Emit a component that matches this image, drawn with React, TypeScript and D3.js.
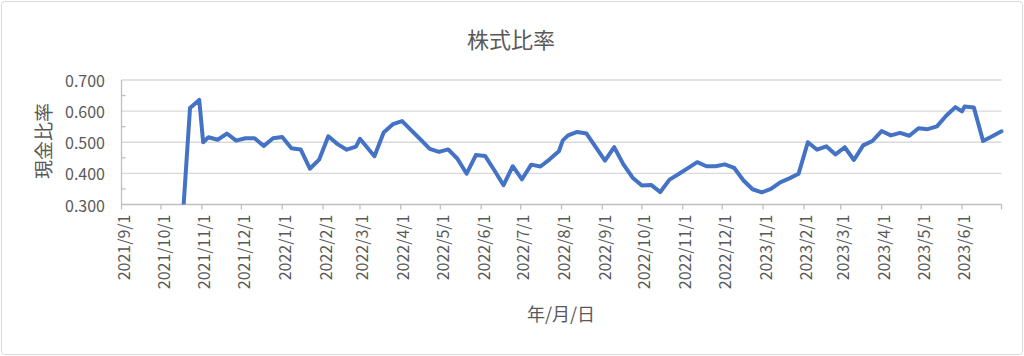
import React from "react";
import * as d3 from "d3";

const dates: string[] = ["2021-10-16","2021-10-23","2021-10-30","2021-11-02","2021-11-06","2021-11-13","2021-11-20","2021-11-27","2021-12-04","2021-12-11","2021-12-18","2021-12-25","2022-01-01","2022-01-08","2022-01-15","2022-01-22","2022-01-29","2022-02-05","2022-02-12","2022-02-19","2022-02-26","2022-03-01","2022-03-12","2022-03-19","2022-03-26","2022-04-02","2022-04-09","2022-04-16","2022-04-23","2022-04-30","2022-05-07","2022-05-14","2022-05-21","2022-05-28","2022-06-04","2022-06-11","2022-06-18","2022-06-25","2022-07-02","2022-07-09","2022-07-16","2022-07-23","2022-07-30","2022-08-02","2022-08-06","2022-08-13","2022-08-20","2022-09-03","2022-09-10","2022-09-17","2022-09-24","2022-10-01","2022-10-08","2022-10-15","2022-10-22","2022-10-29","2022-11-05","2022-11-12","2022-11-19","2022-11-26","2022-12-03","2022-12-10","2022-12-17","2022-12-24","2022-12-31","2023-01-07","2023-01-14","2023-01-21","2023-01-28","2023-02-04","2023-02-11","2023-02-18","2023-02-25","2023-03-04","2023-03-11","2023-03-18","2023-03-25","2023-04-01","2023-04-08","2023-04-15","2023-04-22","2023-04-29","2023-05-06","2023-05-13","2023-05-20","2023-05-27","2023-06-01","2023-06-03","2023-06-10","2023-06-17","2023-06-24","2023-07-01"];

const ratios: number[] = [0.16,0.610,0.636,0.500,0.516,0.508,0.528,0.505,0.513,0.513,0.488,0.513,0.517,0.481,0.477,0.415,0.444,0.519,0.494,0.476,0.486,0.511,0.455,0.531,0.558,0.568,0.538,0.509,0.479,0.469,0.477,0.447,0.399,0.459,0.456,0.410,0.362,0.423,0.381,0.428,0.422,0.445,0.471,0.506,0.522,0.533,0.528,0.441,0.484,0.429,0.386,0.361,0.363,0.340,0.380,0.398,0.417,0.436,0.423,0.423,0.429,0.418,0.378,0.349,0.339,0.350,0.371,0.384,0.399,0.500,0.476,0.487,0.461,0.484,0.443,0.490,0.504,0.536,0.522,0.530,0.521,0.545,0.542,0.551,0.585,0.613,0.599,0.615,0.612,0.504,0.519,0.535];

const yTicks: number[] = [0.3, 0.4, 0.5, 0.6, 0.7];
const axisStart = "2021-09-01";
const axisEnd = "2023-07-01";
const chartTitle = "株式比率";
const yTitle = "現金比率";
const xTitle = "年/月/日";

const W = 1024;
const H = 356;
const left = 121.5;
const right = 1001.5;
const top = 80;
const bottom = 204.5;
const FONT = "'Noto Sans CJK JP', 'Noto Sans', sans-serif";
const TEXT = "#595959";
const GRID = "#d9d9d9";

export default function App() {
  const parse = d3.timeParse("%Y-%m-%d");
  const data = dates.map((d, i) => ({ date: parse(d) as Date, v: ratios[i] }));
  const x = d3.scaleTime().domain([parse(axisStart) as Date, parse(axisEnd) as Date]).range([left, right]);
  const y = d3.scaleLinear().domain([0.3, 0.7]).range([bottom, top]);
  const months = d3.timeMonth.range(parse(axisStart) as Date, d3.timeDay.offset(parse(axisEnd) as Date, 1));
  const fmt = d3.timeFormat("%Y/%-m/%-d");
  const line = d3.line<{ date: Date; v: number }>().x(d => x(d.date)).y(d => y(d.v));
  const minor = d3.range(0.35, 0.7, 0.1);

  return (
    <svg width={W} height={H} style={{ position: "absolute", left: 0, top: 0, background: "#fff" }} fontFamily={FONT}>
      <rect x={1.5} y={1.5} width={W - 3} height={H - 3} fill="#fff" stroke="#d9d9d9" strokeWidth={1} rx={3} />
      <defs>
        <clipPath id="plotClip">
          <rect x={left} y={top - 10} width={right - left + 10} height={bottom - top + 10} />
        </clipPath>
      </defs>
      <text x={511} y={38} textAnchor="middle" dominantBaseline="central" fontSize={22} fill={TEXT}>{chartTitle}</text>
      {yTicks.map(t => (
        <g key={t}>
          <line x1={left} x2={right} y1={y(t)} y2={y(t)} stroke={t === 0.3 ? "#bfbfbf" : GRID} strokeWidth={1.3} />
          <text x={105} y={y(t)} textAnchor="end" dominantBaseline="central" fontSize={16} fill={TEXT}>{t.toFixed(3)}</text>
        </g>
      ))}
      <line x1={left} x2={left} y1={top} y2={bottom} stroke="#bfbfbf" strokeWidth={1.3} />
      {minor.map(t => (
        <line key={t} x1={left} x2={left + 4} y1={y(t)} y2={y(t)} stroke="#bfbfbf" strokeWidth={1.3} />
      ))}
      {months.map((m, i) => (
        <g key={i}>
          <line x1={x(m)} x2={x(m)} y1={bottom} y2={bottom + 5} stroke="#bfbfbf" strokeWidth={1.3} />
          {i < months.length - 1 && (
            <text transform={`translate(${x(m) + 1.5},${bottom + 10}) rotate(-90)`} textAnchor="end" dominantBaseline="central" fontSize={16} fill={TEXT}>{fmt(m)}</text>
          )}
        </g>
      ))}
      <path d={line(data) || ""} fill="none" stroke="#4472C4" strokeWidth={4} strokeLinejoin="round" strokeLinecap="round" clipPath="url(#plotClip)" />
      <text transform={`translate(42,141) rotate(-90)`} textAnchor="middle" dominantBaseline="central" fontSize={19} fill={TEXT}>{yTitle}</text>
      <text x={561} y={313} textAnchor="middle" dominantBaseline="central" fontSize={18} fill={TEXT}>{xTitle}</text>
    </svg>
  );
}
